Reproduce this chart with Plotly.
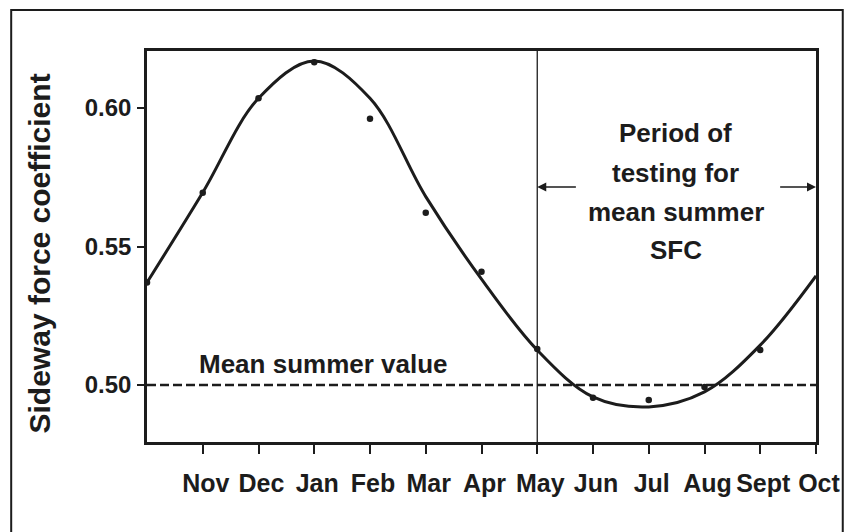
import plotly.graph_objects as go

# Month positions (0 = previous Oct, 12 = Oct)
tick_pos = [1, 2, 3, 4, 5, 6, 7, 8, 9, 10, 11, 12]
tick_labels = ["Nov", "Dec", "Jan", "Feb", "Mar", "Apr", "May", "Jun", "Jul", "Aug", "Sept", "Oct"]

# Smooth fitted curve at each month
curve_pos = [0, 1, 2, 3, 4, 5, 6, 7, 8, 9, 10, 11, 12]
curve_sfc = [0.537, 0.5695, 0.6035, 0.617, 0.6035, 0.568, 0.5382, 0.5126, 0.4957, 0.4921, 0.4975, 0.5144, 0.5394]

# Measured monthly values (dots)
dot_pos = [0, 1, 2, 3, 4, 5, 6, 7, 8, 9, 10, 11]
dot_sfc = [0.537, 0.5694, 0.6035, 0.6165, 0.5961, 0.5622, 0.5409, 0.5130, 0.4954, 0.4946, 0.4993, 0.5126]

mean_summer = 0.50
y_ticks = [0.50, 0.55, 0.60]
y_tick_labels = ["0.50", "0.55", "0.60"]

INK = "#1c1c1c"
FONT = "Liberation Sans, Arial, Helvetica, sans-serif"

fig = go.Figure()

fig.add_trace(go.Scatter(
    x=curve_pos, y=curve_sfc, mode="lines",
    line=dict(color=INK, width=3, shape="spline", smoothing=1.0),
    hoverinfo="skip", showlegend=False,
))
fig.add_trace(go.Scatter(
    x=dot_pos, y=dot_sfc, mode="markers",
    marker=dict(color=INK, size=6.5),
    showlegend=False,
))

# Mean summer value dashed line
fig.add_shape(type="line", xref="x", yref="y", x0=0, x1=12, y0=mean_summer, y1=mean_summer,
              line=dict(color=INK, width=2.5, dash="9px,4px"))
# Vertical line at May
fig.add_shape(type="line", xref="x", yref="paper", x0=7, x1=7, y0=0, y1=1,
              line=dict(color=INK, width=1.3))
# Outer border
fig.add_shape(type="rect", xref="paper", yref="paper", x0=-0.203, x1=1.04, y0=-0.35, y1=1.105,
              line=dict(color=INK, width=2), layer="below")

BOLD = dict(color=INK, family=FONT, weight="bold")
annotations = [
    dict(x=0.9, y=0.5076, xref="x", yref="y", text="Mean summer value", showarrow=False,
         xanchor="left", yanchor="middle", font=dict(size=26, **BOLD)),
    dict(x=-0.16, y=0.482, xref="paper", yref="paper", text="Sideway force coefficient",
         showarrow=False, textangle=-90, xanchor="center", yanchor="middle",
         font=dict(size=30, **BOLD)),
]
for txt, yy in [("Period of", 0.5910), ("testing for", 0.5765), ("mean summer", 0.5625), ("SFC", 0.5487)]:
    annotations.append(dict(x=9.48, y=yy, xref="x", yref="y", text=txt, showarrow=False,
                            xanchor="center", yanchor="middle", font=dict(size=26, **BOLD)))
# Arrows
annotations.append(dict(x=7.0, y=0.5715, ax=7.72, ay=0.5715, xref="x", yref="y", axref="x", ayref="y",
                        text="", showarrow=True, arrowhead=2, arrowsize=1.2, arrowwidth=1.5, arrowcolor=INK))
annotations.append(dict(x=12.0, y=0.5715, ax=11.33, ay=0.5715, xref="x", yref="y", axref="x", ayref="y",
                        text="", showarrow=True, arrowhead=2, arrowsize=1.2, arrowwidth=1.5, arrowcolor=INK))

# page body has an 8px margin, so the figure is 8px smaller and margins offset accordingly
fig.update_layout(
    width=845, height=524,
    margin=dict(l=139, r=31, t=43, b=90),
    paper_bgcolor="white", plot_bgcolor="white",
    font=dict(family=FONT, color=INK),
    annotations=annotations,
    showlegend=False,
)
fig.update_xaxes(
    range=[0, 12], tickmode="array", tickvals=tick_pos, ticktext=tick_labels,
    ticks="outside", ticklen=9, tickwidth=2, tickcolor=INK,
    showline=True, linewidth=2.5, linecolor=INK, mirror=True,
    showgrid=False, zeroline=False, ticklabelstandoff=8, ticklabelshift=3,
    tickfont=dict(size=25, **BOLD),
)
fig.update_yaxes(
    range=[0.47942, 0.62058], tickmode="array", tickvals=y_ticks, ticktext=y_tick_labels,
    ticks="outside", ticklen=7, tickwidth=2, tickcolor=INK,
    showline=True, linewidth=2.5, linecolor=INK, mirror=True,
    showgrid=False, zeroline=False, ticklabelstandoff=1,
    tickfont=dict(size=24, **BOLD),
)

fig.write_html("out.html")
